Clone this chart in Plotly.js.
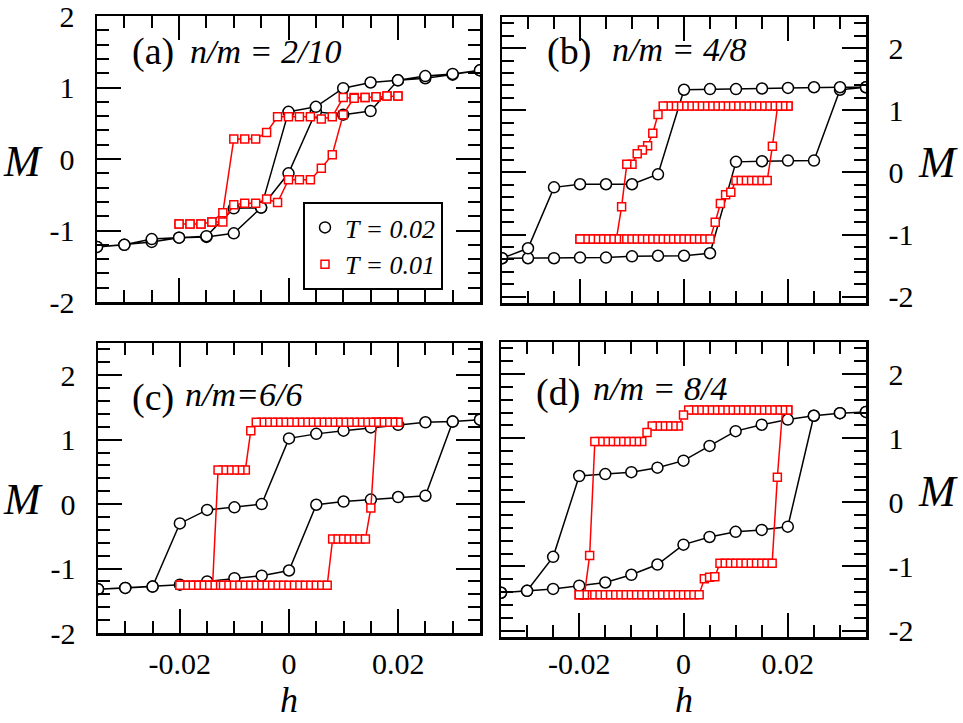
<!DOCTYPE html>
<html>
<head>
<meta charset="utf-8">
<script src="https://cdn.plot.ly/plotly-3.0.1.min.js"></script>
<style>
  html, body { margin: 0; padding: 0; background: #fff; }
  #chart { width: 963px; height: 723px; }
</style>
</head>
<body>
<div id="chart"></div>
<script>
// Field grids (h) used by the two temperatures
const hCoarse = [-0.035, -0.03, -0.025, -0.02, -0.015, -0.01, -0.005, 0, 0.005, 0.01, 0.015, 0.02, 0.025, 0.03, 0.035];
const hStep2 = [-0.020, -0.018, -0.016, -0.014, -0.012, -0.010, -0.008, -0.006, -0.004, -0.002, 0,
                0.002, 0.004, 0.006, 0.008, 0.010, 0.012, 0.014, 0.016, 0.018, 0.020];
const hStep1 = [-0.020, -0.019, -0.018, -0.017, -0.016, -0.015, -0.014, -0.013, -0.012, -0.011, -0.010,
                -0.009, -0.008, -0.007, -0.006, -0.005, -0.004, -0.003, -0.002, -0.001, 0,
                0.001, 0.002, 0.003, 0.004, 0.005, 0.006, 0.007, 0.008, 0.009, 0.010,
                0.011, 0.012, 0.013, 0.014, 0.015, 0.016, 0.017, 0.018, 0.019, 0.020];

// Magnetisation branches, each listed in order of increasing h.
// "up" = sweep with increasing field, "down" = sweep with decreasing field.

// (a) n/m = 2/10
const mA_T002_up   = [-1.23, -1.20, -1.16, -1.10, -1.09, -1.04, -0.68, -0.20, 0.66, 0.62, 0.67, 1.10, 1.13, 1.18, 1.24];
const mA_T002_down = [-1.23, -1.20, -1.12, -1.10, -1.08, -0.69, -0.68, 0.66, 0.73, 0.99, 1.07, 1.10, 1.16, 1.19, 1.24];
const mA_T001_up   = [-0.91, -0.91, -0.91, -0.88, -0.88, -0.64, -0.62, -0.62, -0.56, -0.61, -0.29,
                      -0.29, -0.29, -0.13, 0.06, 0.62, 0.86, 0.86, 0.87, 0.88, 0.88];
const mA_T001_down = [-0.91, -0.91, -0.91, -0.88, -0.75, 0.28, 0.28, 0.28, 0.37, 0.59, 0.59,
                      0.59, 0.59, 0.56, 0.59, 0.86, 0.85, 0.86, 0.87, 0.88, 0.88];

// (b) n/m = 4/8
const mB_T002_up   = [-1.38, -1.38, -1.38, -1.37, -1.37, -1.35, -1.34, -1.34, -1.30, 0.17, 0.18, 0.19, 0.19, 1.33, 1.37];
const mB_T002_down = [-1.38, -1.22, -0.24, -0.19, -0.19, -0.19, -0.03, 1.33, 1.34, 1.34, 1.35, 1.36, 1.37, 1.37, 1.37];
const mB_T001_up   = [-1.07, -1.07, -1.07, -1.07, -1.07, -1.07, -1.07, -1.07, -1.07, -1.07, -1.07,
                      -1.07, -1.07, -1.07, -1.07, -1.07, -1.07, -1.07, -1.07, -1.07, -1.07,
                      -1.07, -1.07, -1.07, -1.07, -1.07, -0.80, -0.50, -0.36, -0.32, -0.13,
                      -0.13, -0.13, -0.13, -0.13, -0.13, -0.13, 0.42, 1.07, 1.07, 1.07];
const mB_T001_down = [-1.07, -1.07, -1.07, -1.07, -1.07, -1.07, -1.07, -1.07, -0.55, 0.13, 0.13,
                      0.30, 0.36, 0.43, 0.63, 0.93, 1.07, 1.07, 1.07, 1.07, 1.07,
                      1.07, 1.07, 1.07, 1.07, 1.07, 1.07, 1.07, 1.07, 1.07, 1.07,
                      1.07, 1.07, 1.07, 1.07, 1.07, 1.07, 1.07, 1.07, 1.07, 1.07];

// (c) n/m = 6/6
const mC_T002_up   = [-1.32, -1.30, -1.28, -1.25, -1.20, -1.15, -1.11, -1.03, -0.01, 0.04, 0.07, 0.11, 0.13, 1.28, 1.31];
const mC_T002_down = [-1.32, -1.30, -1.28, -0.30, -0.09, -0.05, 0.00, 1.02, 1.09, 1.14, 1.19, 1.23, 1.27, 1.28, 1.31];
const mC_T001_up   = [-1.26, -1.26, -1.26, -1.26, -1.26, -1.26, -1.26, -1.26, -1.26, -1.26, -1.26,
                      -1.26, -1.26, -1.26, -1.26, -1.26, -1.26, -1.26, -1.26, -1.26, -1.26,
                      -1.26, -1.26, -1.26, -1.26, -1.26, -1.26, -1.26, -0.54, -0.54, -0.54,
                      -0.54, -0.54, -0.54, -0.54, -0.06, 1.27, 1.27, 1.27, 1.27, 1.27];
const mC_T001_down = [-1.26, -1.26, -1.26, -1.26, -1.26, -1.26, -1.26, 0.53, 0.53, 0.53, 0.53,
                      0.53, 0.53, 1.14, 1.27, 1.27, 1.27, 1.27, 1.27, 1.27, 1.27,
                      1.27, 1.27, 1.27, 1.27, 1.27, 1.27, 1.27, 1.27, 1.27, 1.27,
                      1.27, 1.27, 1.27, 1.27, 1.27, 1.27, 1.27, 1.27, 1.27, 1.27];

// (d) n/m = 8/4
const mD_T002_up   = [-1.41, -1.38, -1.35, -1.30, -1.25, -1.13, -0.97, -0.66, -0.54, -0.46, -0.43, -0.38, 1.35, 1.39, 1.41];
const mD_T002_down = [-1.41, -1.38, -0.85, 0.41, 0.44, 0.47, 0.54, 0.65, 0.88, 1.11, 1.21, 1.29, 1.35, 1.39, 1.41];
const mD_T001_up   = [-1.44, -1.44, -1.44, -1.44, -1.44, -1.44, -1.44, -1.44, -1.44, -1.44, -1.44,
                      -1.44, -1.44, -1.44, -1.44, -1.44, -1.44, -1.44, -1.44, -1.44, -1.44,
                      -1.44, -1.44, -1.44, -1.19, -1.17, -1.16, -0.95, -0.95, -0.95, -0.95,
                      -0.95, -0.95, -0.95, -0.95, -0.95, -0.95, -0.95, 0.39, 1.44, 1.44];
const mD_T001_down = [-1.44, -1.44, -0.83, 0.95, 0.95, 0.95, 0.95, 0.95, 0.95, 0.95, 0.95,
                      0.95, 0.95, 1.09, 1.19, 1.19, 1.19, 1.19, 1.19, 1.19, 1.36,
                      1.44, 1.44, 1.44, 1.44, 1.44, 1.44, 1.44, 1.44, 1.44, 1.44,
                      1.44, 1.44, 1.44, 1.44, 1.44, 1.44, 1.44, 1.44, 1.44, 1.44];

// Tick labels (plain hyphen minus, as typeset in the figure)
const xTickVals = [-0.02, 0, 0.02];
const xTickText = ['-0.02', '0', '0.02'];
const yTickVals = [-2, -1, 0, 1, 2];
const yTickText = ['-2', '-1', '0', '1', '2'];

const legendNames = ['T = 0.02', 'T = 0.01'];
const panelTags = ['(a)', '(b)', '(c)', '(d)'];
const panelRatios = ['n/m = 2/10', 'n/m = 4/8', 'n/m=6/6', 'n/m = 8/4'];

// Close a hysteresis loop: increasing branch, then decreasing branch back
function loop(h, up, down) {
  return {
    x: h.concat(h.slice().reverse()),
    y: up.concat(down.slice().reverse())
  };
}

const SERIF = '"Liberation Serif", "Times New Roman", serif';
const BLACK_MARK = { symbol: 'circle', size: 11, color: 'white', line: { color: 'black', width: 1.5 } };
const RED_MARK = { symbol: 'square', size: 8, color: 'white', line: { color: '#ff0000', width: 1.5 } };

const panels = [
  { xa: 'x',  ya: 'y',  T2: loop(hCoarse, mA_T002_up, mA_T002_down), T1: loop(hStep2, mA_T001_up, mA_T001_down) },
  { xa: 'x2', ya: 'y2', T2: loop(hCoarse, mB_T002_up, mB_T002_down), T1: loop(hStep1, mB_T001_up, mB_T001_down) },
  { xa: 'x3', ya: 'y3', T2: loop(hCoarse, mC_T002_up, mC_T002_down), T1: loop(hStep1, mC_T001_up, mC_T001_down) },
  { xa: 'x4', ya: 'y4', T2: loop(hCoarse, mD_T002_up, mD_T002_down), T1: loop(hStep1, mD_T001_up, mD_T001_down) }
];

const traces = [];
panels.forEach((p, i) => {
  const first = i === 0;
  // T = 0.02: connecting line, then open circles
  traces.push({ x: p.T2.x, y: p.T2.y, xaxis: p.xa, yaxis: p.ya, mode: 'lines',
                line: { color: 'black', width: 1.5 }, showlegend: false, hoverinfo: 'skip' });
  traces.push({ x: p.T2.x, y: p.T2.y, xaxis: p.xa, yaxis: p.ya, mode: 'markers',
                marker: BLACK_MARK, name: legendNames[0], showlegend: first, legendrank: 1 });
  // T = 0.01: connecting line, then open squares
  traces.push({ x: p.T1.x, y: p.T1.y, xaxis: p.xa, yaxis: p.ya, mode: 'lines',
                line: { color: '#ff0000', width: 1.5 }, showlegend: false, hoverinfo: 'skip' });
  traces.push({ x: p.T1.x, y: p.T1.y, xaxis: p.xa, yaxis: p.ya, mode: 'markers',
                marker: RED_MARK, name: legendNames[1], showlegend: first, legendrank: 2 });
});

const TICKFONT = { family: SERIF, size: 30, color: 'black' };

function xAxis(domain, anchor, labels, standoff) {
  return {
    domain: domain, anchor: anchor, range: [-0.035, 0.035],
    showline: true, linecolor: 'black', linewidth: 2.5, mirror: 'ticks',
    ticks: 'inside', ticklen: 24, tickwidth: 2, tickcolor: 'black',
    tickmode: 'array', tickvals: xTickVals, ticktext: xTickText,
    minor: { tickmode: 'linear', tick0: 0, dtick: 0.005, ticks: 'inside', ticklen: 12, tickwidth: 2, tickcolor: 'black', showgrid: false },
    showgrid: false, zeroline: false, showticklabels: labels,
    tickfont: TICKFONT, ticklabeloverflow: 'allow',
    ticklabelstandoff: standoff
  };
}
function yAxis(domain, anchor, range, side) {
  return {
    domain: domain, anchor: anchor, range: range, side: side,
    showline: true, linecolor: 'black', linewidth: 2.5, mirror: 'ticks',
    ticks: 'inside', ticklen: 24, tickwidth: 2, tickcolor: 'black',
    tickmode: 'array', tickvals: yTickVals, ticktext: yTickText,
    minor: { tickmode: 'linear', tick0: 0, dtick: 0.2, ticks: 'inside', ticklen: 12, tickwidth: 2, tickcolor: 'black', showgrid: false },
    showgrid: false, zeroline: false, showticklabels: true,
    tickfont: TICKFONT, ticklabeloverflow: 'allow',
    ticklabelstandoff: 14
  };
}

const W = 963, H = 723;
const fx = px => px / W;
const fy = px => 1 - px / H;

const annotations = [];
const tagPos = [[130, 52], [545, 52], [130, 397], [534, 393]];
const ratioPos = [[188, 52], [610, 50], [183, 395], [591, 388]];
panelTags.forEach((t, i) => {
  annotations.push({ text: t, xref: 'paper', yref: 'paper', x: fx(tagPos[i][0]), y: fy(tagPos[i][1]),
    xanchor: 'left', yanchor: 'middle', showarrow: false, font: { family: SERIF, size: 38, color: 'black' } });
  annotations.push({ text: '<i>' + panelRatios[i] + '</i>', xref: 'paper', yref: 'paper', x: fx(ratioPos[i][0]), y: fy(ratioPos[i][1]),
    xanchor: 'left', yanchor: 'middle', showarrow: false, font: { family: SERIF, size: 34, color: 'black' } });
});
// Axis titles
[[23, 161], [938, 162], [23, 499], [938, 491]].forEach(p => {
  annotations.push({ text: '<i>M</i>', xref: 'paper', yref: 'paper', x: fx(p[0]), y: fy(p[1]),
    xanchor: 'center', yanchor: 'middle', showarrow: false, font: { family: SERIF, size: 44, color: 'black' } });
});
[[289, 700], [684, 700]].forEach(p => {
  annotations.push({ text: '<i>h</i>', xref: 'paper', yref: 'paper', x: fx(p[0]), y: fy(p[1]),
    xanchor: 'center', yanchor: 'middle', showarrow: false, font: { family: SERIF, size: 36, color: 'black' } });
});

const layout = {
  width: W, height: H,
  margin: { l: 0, r: 0, t: 0, b: 0 },
  paper_bgcolor: 'white', plot_bgcolor: 'white',
  font: { family: SERIF, color: 'black' },
  showlegend: true,
  legend: {
    x: fx(303), y: fy(202), xanchor: 'left', yanchor: 'top',
    bgcolor: 'white', bordercolor: 'black', borderwidth: 2,
    font: { family: SERIF, size: 26, color: 'black', style: 'italic' },
    traceorder: 'normal'
  },
  xaxis:  xAxis([fx(97),  fx(480)], 'y',  false, 0),
  yaxis:  yAxis([fy(302), fy(16)],  'x',  [-2, 2], 'left'),
  xaxis2: xAxis([fx(502), fx(866)], 'y2', false, 0),
  yaxis2: yAxis([fy(303), fy(17)],  'x2', [-2.1, 2.5], 'right'),
  xaxis3: xAxis([fx(98),  fx(480)], 'y3', true, 2),
  yaxis3: yAxis([fy(633), fy(343)], 'x3', [-2, 2.5], 'left'),
  xaxis4: xAxis([fx(501), fx(866)], 'y4', true, -2),
  yaxis4: yAxis([fy(637), fy(342)], 'x4', [-2.1, 2.5], 'right'),
  annotations: annotations
};

Plotly.newPlot('chart', traces, layout, { displayModeBar: false, staticPlot: true });
</script>
</body>
</html>
